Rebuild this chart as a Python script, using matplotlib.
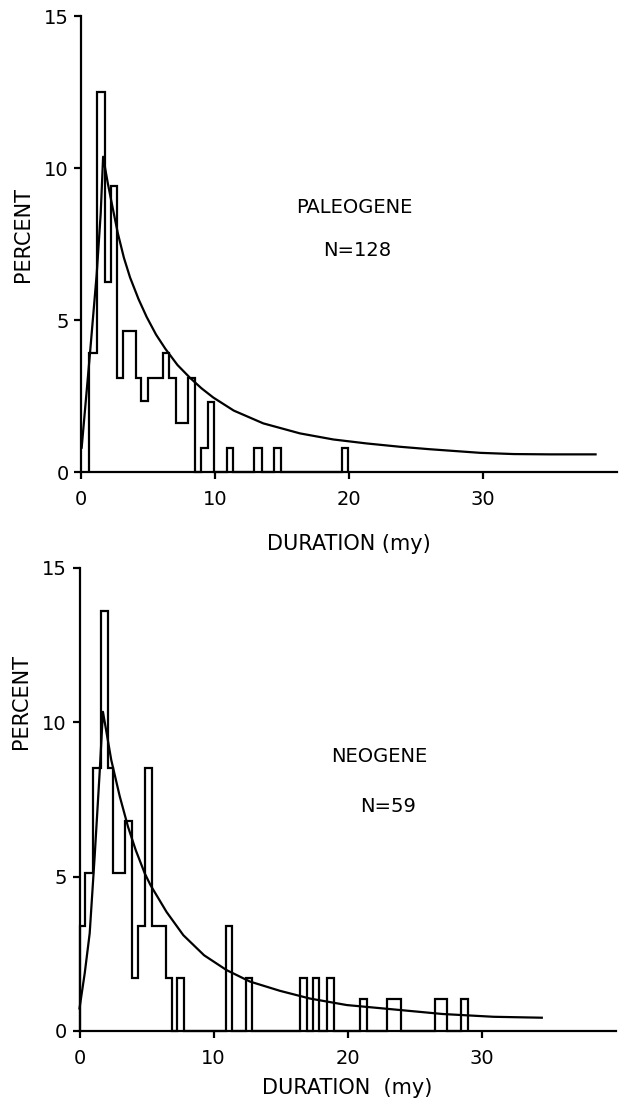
import matplotlib.pyplot as plt

# Paleogene histogram: class edges (my) and percent in each class
paleo_edges = [0.62, 1.22, 1.79, 2.22, 2.71, 3.16, 4.10, 4.48, 5.02, 6.09, 6.59, 7.07,
               8.01, 8.51, 8.93, 9.5, 9.93, 10.87, 11.37, 12.91, 13.49, 14.40, 14.9,
               19.46, 19.95]
paleo_pct = [3.9, 12.5, 6.25, 9.4, 3.1, 4.65, 3.1, 2.35, 3.1, 3.9, 3.1, 1.6,
             3.1, 0, 0.8, 2.3, 0, 0.8, 0, 0.8, 0, 0.8, 0, 0.8]
# fitted curve
paleo_fit_x = [0.05, 0.67, 1.17, 1.47, 1.65, 2.0, 2.29, 2.75, 3.2, 3.66, 4.3, 4.9,
               5.6, 6.3, 7.2, 8.13, 9.0, 9.87, 11.4, 13.6, 16.34, 18.83, 21.3,
               23.8, 26.0, 29.8, 32.3, 35.0, 38.4]
paleo_fit_y = [0.8, 3.9, 6.5, 8.5, 10.37, 9.5, 8.85, 7.85, 7.05, 6.4, 5.68, 5.1,
               4.52, 4.05, 3.52, 3.1, 2.75, 2.45, 2.02, 1.6, 1.27, 1.07, 0.94,
               0.83, 0.75, 0.63, 0.59, 0.58, 0.58]

# Neogene
neo_edges = [0.0, 0.43, 1.0, 1.57, 2.14, 2.47, 3.4, 3.9, 4.4, 4.89, 5.39, 6.46,
             6.88, 7.3, 7.82, 10.93, 11.36, 12.43, 12.9, 16.45, 16.96, 17.4, 17.9,
             18.45, 19.0, 20.93, 21.43, 22.97, 23.97, 26.5, 27.4, 28.5, 29.0]
neo_pct = [3.4, 5.1, 8.5, 13.6, 8.5, 5.1, 6.8, 1.7, 3.4, 8.5, 3.4, 1.7,
           0, 1.7, 0, 3.4, 0, 1.7, 0, 1.7, 0, 1.7,
           0, 1.7, 0, 1.05, 0, 1.05, 0, 1.05, 0, 1.05]
neo_fit_x = [0.0, 0.39, 0.76, 1.13, 1.5, 1.75, 2.37, 3.0, 3.62, 4.2, 4.87, 5.3,
             6.5, 7.75, 9.3, 10.98, 12.72, 14.96, 17.2, 19.94, 23.4, 27.1, 30.9, 34.5]
neo_fit_y = [0.73, 1.87, 3.16, 5.64, 8.34, 10.33, 8.77, 7.6, 6.61, 5.85, 5.1, 4.72,
             3.85, 3.1, 2.45, 1.97, 1.6, 1.3, 1.05, 0.84, 0.7, 0.55, 0.46, 0.43]

x_ticks = [0, 10, 20, 30]
y_ticks = [0, 5, 10, 15]

LW = 1.6
fig = plt.figure(figsize=(6.19, 11.13), dpi=100)
ax1 = fig.add_axes([81 / 619, 1 - 472 / 1113, 536 / 619, 456 / 1113])
ax2 = fig.add_axes([79.5 / 619, 82 / 1113, 536 / 619, 463.5 / 1113])

panels = [
    # axes, edges, pct, fit x, fit y, title, N, title pos, N pos, xlabel, labelpad, ylabel y
    (ax1, paleo_edges, paleo_pct, paleo_fit_x, paleo_fit_y, 'PALEOGENE', 'N=128',
     (20.4, 8.7), (20.6, 7.3), 'DURATION (my)', 18, 0.52),
    (ax2, neo_edges, neo_pct, neo_fit_x, neo_fit_y, 'NEOGENE', 'N=59',
     (22.4, 8.88), (23.0, 7.26), 'DURATION  (my)', 7, 0.71),
]

for ax, edges, pct, fx, fy, name, n_txt, name_xy, n_xy, xlab, lpad, ylab_y in panels:
    ax.stairs(pct, edges, baseline=0, color='black', linewidth=LW, clip_on=False)
    ax.plot(fx, fy, color='black', linewidth=LW, clip_on=False)

    ax.set_xlim(0, 40)
    ax.set_ylim(0, 15)
    ax.set_xticks(x_ticks)
    ax.set_yticks(y_ticks)
    for side in ('top', 'right'):
        ax.spines[side].set_visible(False)
    for side in ('left', 'bottom'):
        ax.spines[side].set_linewidth(LW)
    ax.tick_params(axis='both', direction='out', length=5, width=LW, labelsize=14)
    ax.tick_params(axis='x', pad=8)
    ax.tick_params(axis='y', pad=4)

    ax.set_xlabel(xlab, fontsize=15, labelpad=lpad)
    ax.set_ylabel('PERCENT', fontsize=15)
    ax.yaxis.set_label_coords(-0.09, ylab_y)

    ax.text(*name_xy, name, ha='center', va='center', fontsize=14)
    ax.text(*n_xy, n_txt, ha='center', va='center', fontsize=14)

fig.savefig('out.png', dpi=100)
